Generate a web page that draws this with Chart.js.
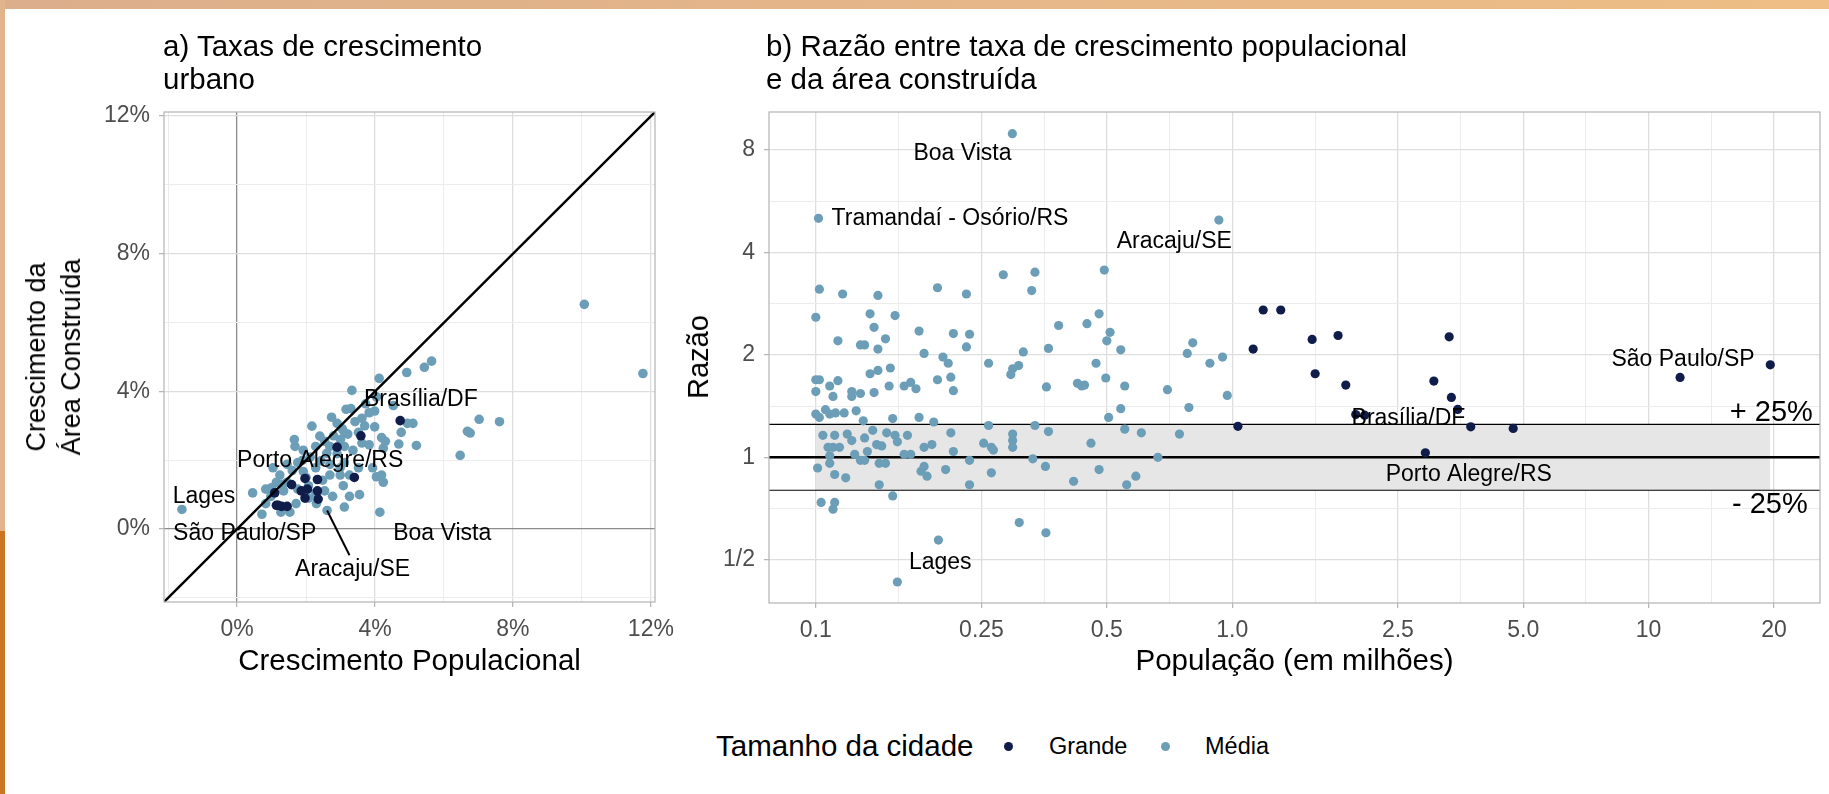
<!DOCTYPE html>
<html lang="pt">
<head>
  <meta charset="UTF-8">
  <title>Taxas de crescimento urbano</title>
  <script src="https://cdn.jsdelivr.net/npm/chart.js"></script>
  <style>
    body {
      margin: 0;
      width: 1829px;
      height: 794px;
      position: relative;
      overflow: hidden;
      background: #fff;
      font-family: "Liberation Sans", Arial, Helvetica, sans-serif;
      color: #000;
    }
    canvas { position: absolute; top: 0; }
    .t { position: absolute; white-space: nowrap; }
    .title { top: 29px; font-size: 29.5px; line-height: 33px; }
    .xtitle { top: 644px; font-size: 29.5px; line-height: 32px; text-align: center; }
    .ytitle { transform: translate(-50%, -50%) rotate(-90deg); text-align: center; }
    .dot { position: absolute; width: 9px; height: 9px; border-radius: 50%; }
    .band { position: absolute; z-index: 2; }
  </style>
</head>
<body>
  <canvas id="chartA" width="700" height="700" style="left:0"></canvas>
  <canvas id="chartB" width="1129" height="700" style="left:700px"></canvas>

  <!-- moldura laranja -->
  <div class="band" style="left:0;top:0;width:1829px;height:9px;background:linear-gradient(90deg,#dcae8b,#eebe86)"></div>
  <div class="band" style="left:0;top:0;width:5px;height:531px;background:#e3b48c"></div>
  <div class="band" style="left:0;top:531px;width:5px;height:263px;background:#c97521"></div>

  <!-- titulos -->
  <div class="t title" style="left:163px">a) Taxas de crescimento<br>urbano</div>
  <div class="t title" style="left:766px">b) Razão entre taxa de crescimento populacional<br>e da área construída</div>
  <div class="t xtitle" style="left:164px;width:491px">Crescimento Populacional</div>
  <div class="t xtitle" style="left:769px;width:1051px">População (em milhões)</div>
  <div class="t ytitle" style="left:54px;top:357px;font-size:27px;line-height:35px">Crescimento da<br>Área Construída</div>
  <div class="t ytitle" style="left:698px;top:357px;font-size:29px;line-height:32px">Razão</div>

  <!-- legenda -->
  <div class="t" style="left:716px;top:730px;font-size:29.5px;line-height:32px">Tamanho da cidade</div>
  <div class="dot" style="left:1004px;top:742px;background:#101c4a"></div>
  <div class="t" style="left:1049px;top:733px;font-size:23.5px;line-height:27px">Grande</div>
  <div class="dot" style="left:1161px;top:742px;background:#6c9eb8"></div>
  <div class="t" style="left:1205px;top:733px;font-size:23.5px;line-height:27px">Média</div>

  <script>
    const FONT = '"Liberation Sans", Arial, Helvetica, sans-serif';
    const COL_GRANDE = '#101c4a';
    const COL_MEDIA = '#6c9eb8';

    // ---- painel a: crescimento populacional (x, %) x crescimento da área (y, %) ----
    const popGrowthMedia = [10.07, 11.77, 5.64, 5.43, 4.92, 4.12, 3.33, 7.02, 7.61, 6.68, 6.76, 6.47, 5.20, 4.69, 4.76, 5.10, 4.94, 4.53, 3.99, 3.83,
      3.62, 3.42, 3.16, 2.74, 2.17, 2.90, 3.05, 3.21, 2.80, 2.54, 2.28, 1.92, 1.66, 1.68, 2.12, 2.69, 2.99, 3.26, 3.62, 3.83,
      3.99, 4.19, 4.30, 4.24, 4.04, 4.19, 4.24, 4.14, 3.08, 3.55, 3.26, 2.77, 3.11, 2.61, 2.30, 2.54, 2.48, 2.07, 1.71, 1.53,
      1.27, 0.83, 0.72, 0.45, 0.83, 1.04, 1.24, 1.35, 1.45, 1.76, 1.92, -1.60, 3.11, 2.69, 2.90, 3.36, 3.52, 3.73, 4.04, 3.11,
      2.43, 2.69, 2.99, 3.52, 3.93, 2.28, 1.76, 2.07, 1.45, 1.14, 0.98, 3.11, 2.28, 3.30, 3.70, 2.40, 1.90, 2.60, 3.00, 1.60,
      1.30, 1.00, 2.00];
    const areaGrowthMedia = [6.53, 4.52, 4.88, 4.70, 4.55, 4.38, 4.03, 3.19, 3.12, 2.84, 2.79, 2.14, 2.43, 2.47, 2.81, 3.07, 3.07, 3.59, 3.43, 3.38,
      3.22, 3.12, 3.48, 3.25, 2.99, 3.07, 2.91, 2.76, 2.71, 2.55, 2.40, 2.29, 2.60, 2.40, 2.09, 1.88, 1.78, 1.57, 2.50, 2.45,
      2.97, 2.66, 2.55, 2.35, 1.52, 1.57, 1.36, 0.49, 1.26, 1.00, 0.95, 0.95, 0.64, 0.54, 0.74, 1.11, 1.42, 1.26, 0.74, 0.49,
      0.49, 0.74, 0.43, 1.05, 1.16, 1.78, 1.57, 1.11, 1.88, 1.93, 1.67, 0.57, 2.40, 2.40, 2.19, 2.29, 2.81, 3.64, 3.84, 2.81,
      1.98, 1.57, 1.57, 1.78, 1.78, 1.05, 1.16, 0.90, 1.36, 1.36, 0.95, 1.93, 1.78, 3.50, 3.00, 2.70, 2.00, 2.20, 2.60, 1.70,
      1.30, 1.20, 1.50];
    const popGrowthGrande = [4.73, 3.59, 2.90, 3.40, 1.58, 1.97, 2.33, 1.86, 2.04, 2.33, 1.97, 2.35, 1.09, 1.14, 1.29, 1.45, 1.19];
    const areaGrowthGrande = [3.15, 2.71, 2.38, 1.50, 1.29, 1.47, 1.44, 1.11, 1.16, 1.11, 0.90, 0.87, 1.05, 0.69, 0.66, 0.66, 0.69];

    const rangeA = [-2.12, 12.12];
    const ticksA = [-2, 0, 2, 4, 6, 8, 10, 12];
    const majorA = [0, 4, 8, 12];

    // rótulos e seta do Aracaju no painel a (coordenadas em %)
    const notesA_text = ['Brasília/DF', 'Porto Alegre/RS', 'Lages', 'São Paulo/SP', 'Boa Vista', 'Aracaju/SE'];
    const notesA_x = [5.33, 2.41, -0.96, 0.22, 5.95, 3.35];
    const notesA_y = [3.75, 1.99, 0.93, -0.13, -0.13, -1.17];
    const arrowA_x = [2.61, 3.26];
    const arrowA_y = [0.54, -0.76];

    // ---- painel b: população (milhões) x razão entre taxas ----
    const popMedia = [0.102, 0.116, 0.141, 0.196, 0.230, 0.282, 0.336, 0.330, 0.493, 0.100, 0.135, 0.155, 0.138, 0.113, 0.147, 0.128, 0.131, 0.141, 0.177, 0.214,
      0.234, 0.230, 0.182, 0.202, 0.208, 0.260, 0.315, 0.307, 0.297, 0.294, 0.383, 0.448, 0.479, 0.509, 0.500, 0.362, 0.540, 0.471, 0.497, 0.552,
      0.358, 0.425, 0.435, 0.442, 0.699, 0.780, 0.804, 0.884, 0.948, 0.973, 0.787, 0.540, 0.505, 0.100, 0.102, 0.108, 0.113, 0.100, 0.110, 0.122,
      0.128, 0.122, 0.138, 0.150, 0.135, 0.141, 0.151, 0.163, 0.169, 0.174, 0.196, 0.211, 0.214, 0.100, 0.102, 0.1055, 0.108, 0.1115, 0.117, 0.125,
      0.130, 0.137, 0.148, 0.153, 0.177, 0.192, 0.211, 0.214, 0.234, 0.260, 0.297, 0.297, 0.297, 0.336, 0.362, 0.253, 0.264, 0.267, 0.182, 0.190,
      0.166, 0.155, 0.157, 0.104, 0.111, 0.119, 0.122, 0.107, 0.110, 0.114, 0.108, 0.124, 0.128, 0.131, 0.133, 0.140, 0.144, 0.163, 0.169, 0.131,
      0.101, 0.108, 0.111, 0.118, 0.142, 0.147, 0.142, 0.153, 0.179, 0.182, 0.185, 0.205, 0.234, 0.264, 0.332, 0.356, 0.416, 0.458, 0.479, 0.552,
      0.605, 0.663, 0.587, 0.558, 0.747, 0.103, 0.111, 0.110, 0.197, 0.308, 0.357, 0.157, 0.2965, 0.1015, 0.929];
    const ratioMedia = [3.12, 3.02, 2.99, 3.15, 3.02, 3.44, 3.50, 3.09, 3.55, 2.58, 2.64, 2.61, 2.41, 2.20, 2.23, 2.14, 2.14, 2.08, 2.35, 2.31,
      2.30, 2.11, 2.02, 1.97, 1.89, 1.89, 2.04, 1.86, 1.82, 1.75, 2.44, 2.47, 2.64, 2.33, 2.20, 2.09, 2.07, 1.89, 1.71, 1.62,
      1.61, 1.65, 1.62, 1.63, 1.58, 2.02, 2.17, 1.89, 1.97, 1.52, 1.40, 1.39, 1.31, 1.69, 1.69, 1.62, 1.68, 1.56, 1.51, 1.56,
      1.54, 1.51, 1.55, 1.62, 1.76, 1.80, 1.83, 1.62, 1.66, 1.59, 1.69, 1.72, 1.57, 1.34, 1.31, 1.38, 1.34, 1.35, 1.35, 1.37,
      1.28, 1.20, 1.18, 1.30, 1.31, 1.27, 1.18, 1.04, 0.98, 1.24, 1.17, 1.12, 1.07, 1.24, 1.19, 1.10, 1.07, 1.05, 1.07, 1.09,
      1.16, 1.16, 1.11, 1.16, 1.16, 1.17, 1.12, 1.07, 1.07, 1.07, 1.01, 1.02, 0.98, 0.98, 1.04, 1.09, 1.08, 1.02, 1.02, 1.14,
      0.93, 0.96, 0.89, 0.87, 0.96, 0.96, 0.83, 0.77, 0.91, 0.94, 0.88, 0.92, 0.83, 0.90, 0.99, 0.94, 0.85, 1.10, 0.92, 1.21,
      1.18, 1.00, 0.88, 0.83, 1.17, 0.737, 0.737, 0.704, 0.571, 0.643, 0.600, 0.430, 8.94, 5.04, 4.98];
    const popGrande = [1.123, 1.187, 1.308, 1.556, 1.796, 3.32, 1.582, 1.874, 3.05, 3.36, 3.48, 2.08, 1.98, 3.74, 4.73, 2.91, 1.032, 11.9, 19.6];
    const ratioGrande = [2.08, 2.71, 2.71, 2.22, 2.28, 2.26, 1.76, 1.63, 1.675, 1.50, 1.383, 1.33, 1.335, 1.229, 1.216, 1.031, 1.233, 1.717, 1.87];

    const rangeBx = [0.0772, 25.8];
    const rangeBy = [0.373, 10.35];
    const ticksBx = [0.1, 0.158, 0.25, 0.354, 0.5, 0.707, 1, 1.581, 2.5, 3.536, 5, 7.071, 10, 14.14, 20];
    const labelsBx = { 0.1: '0.1', 0.25: '0.25', 0.5: '0.5', 1: '1.0', 2.5: '2.5', 5: '5.0', 10: '10', 20: '20' };
    const ticksBy = [0.5, 0.707, 1, 1.414, 2, 2.828, 4, 5.657, 8];
    const labelsBy = { 0.5: '1/2', 1: '1', 2: '2', 4: '4', 8: '8' };

    // faixa de +/- 25% em torno da razão 1
    const refRatio = 1;
    const bandRatio = [0.8, 1.25];
    const bandPop = [0.1, 19.6];

    const notesB_text = ['Boa Vista', 'Tramandaí - Osório/RS', 'Aracaju/SE', 'São Paulo/SP', 'Brasília/DF', 'Porto Alegre/RS', 'Lages'];
    const notesB_x = [0.225, 0.21, 0.726, 12.1, 2.65, 3.70, 0.199];
    const notesB_y = [7.81, 5.04, 4.30, 1.94, 1.295, 0.892, 0.489];
    const bandNotes_text = ['+ 25%', '- 25%'];
    const bandNotes_x = [24.8, 24.1];
    const bandNotes_y = [1.349, 0.723];

    const toPoints = (xs, ys) => xs.map((v, i) => ({ x: v, y: ys[i] }));

    // moldura do painel + rótulos de texto em coordenadas de dados
    function panelPlugin(notes) {
      return {
        id: 'panelExtras',
        afterDatasetsDraw(chart) {
          const { ctx, chartArea: a, scales } = chart;
          ctx.save();
          ctx.strokeStyle = '#b3b3b3';
          ctx.lineWidth = 1.2;
          ctx.strokeRect(a.left, a.top, a.right - a.left, a.bottom - a.top);
          ctx.fillStyle = '#000';
          ctx.textBaseline = 'middle';
          notes.forEach(n => {
            ctx.font = n.size + 'px ' + FONT;
            ctx.textAlign = n.align;
            ctx.fillText(n.text, scales.x.getPixelForValue(n.x), scales.y.getPixelForValue(n.y));
          });
          ctx.restore();
        }
      };
    }

    const tickFont = { family: FONT, size: 23 };
    const isIn = (arr, v) => arr.some(m => Math.abs(m - v) < 1e-6);

    // ---------- grafico a ----------
    const gridA = () => ({
      color: c => (c.tick && Math.abs(c.tick.value) < 1e-9) ? '#8c8c8c' : (isIn(majorA, c.tick.value) ? '#dedede' : '#ececec'),
      lineWidth: c => (c.tick && isIn(majorA, c.tick.value)) ? 1.3 : 1,
      tickColor: c => (c.tick && isIn(majorA, c.tick.value)) ? '#b3b3b3' : 'rgba(0,0,0,0)',
      tickLength: 5,
      tickWidth: 1.2
    });
    const ticksCfgA = {
      color: '#4d4d4d', font: tickFont, padding: 9, maxRotation: 0, autoSkip: false,
      callback: v => isIn(majorA, v) ? Math.round(v) + '%' : ''
    };

    const notesA = notesA_text.map((t, i) => ({ text: t, x: notesA_x[i], y: notesA_y[i], size: 23, align: 'center' }));

    new Chart(document.getElementById('chartA'), {
      type: 'scatter',
      data: {
        datasets: [
          { type: 'line', data: toPoints(rangeA, rangeA), borderColor: '#000', borderWidth: 2.4, pointRadius: 0, order: 0 },
          { type: 'line', data: toPoints(arrowA_x, arrowA_y), borderColor: '#000', borderWidth: 2, pointRadius: 0, order: 0 },
          { label: 'Grande', data: toPoints(popGrowthGrande, areaGrowthGrande), backgroundColor: COL_GRANDE, borderWidth: 0, pointRadius: 4.8, order: 1 },
          { label: 'Média', data: toPoints(popGrowthMedia, areaGrowthMedia), backgroundColor: COL_MEDIA, borderWidth: 0, pointRadius: 4.8, order: 2 }
        ]
      },
      options: {
        responsive: false,
        animation: false,
        devicePixelRatio: 1,
        layout: { padding: { top: 112, right: 45, left: 0, bottom: 0 } },
        plugins: { legend: { display: false }, tooltip: { enabled: false } },
        scales: {
          x: {
            type: 'linear', min: rangeA[0], max: rangeA[1],
            afterBuildTicks: s => { s.ticks = ticksA.map(v => ({ value: v })); },
            afterFit: s => { s.height = 98; },
            ticks: ticksCfgA, grid: gridA(), border: { display: false }
          },
          y: {
            type: 'linear', min: rangeA[0], max: rangeA[1],
            afterBuildTicks: s => { s.ticks = ticksA.map(v => ({ value: v })); },
            afterFit: s => { s.width = 164; },
            ticks: ticksCfgA, grid: gridA(), border: { display: false }
          }
        }
      },
      plugins: [panelPlugin(notesA)]
    });

    // ---------- grafico b ----------
    const majorBx = Object.keys(labelsBx).map(Number);
    const majorBy = Object.keys(labelsBy).map(Number);
    const gridB = majors => ({
      color: c => (c.tick && isIn(majors, c.tick.value)) ? '#dedede' : '#ececec',
      lineWidth: c => (c.tick && isIn(majors, c.tick.value)) ? 1.3 : 1,
      tickColor: c => (c.tick && isIn(majors, c.tick.value)) ? '#b3b3b3' : 'rgba(0,0,0,0)',
      tickLength: 5,
      tickWidth: 1.2
    });
    const labelOf = (map, v) => {
      const k = Object.keys(map).find(m => Math.abs(Number(m) - v) < 1e-6);
      return k === undefined ? '' : map[k];
    };

    const notesB = notesB_text.map((t, i) => ({ text: t, x: notesB_x[i], y: notesB_y[i], size: 23, align: 'center' }))
      .concat(bandNotes_text.map((t, i) => ({ text: t, x: bandNotes_x[i], y: bandNotes_y[i], size: 29, align: 'right' })));

    new Chart(document.getElementById('chartB'), {
      type: 'scatter',
      data: {
        datasets: [
          { label: 'Grande', data: toPoints(popGrande, ratioGrande), backgroundColor: COL_GRANDE, borderWidth: 0, pointRadius: 4.6, order: 1 },
          { label: 'Média', data: toPoints(popMedia, ratioMedia), backgroundColor: COL_MEDIA, borderWidth: 0, pointRadius: 4.6, order: 2 },
          { type: 'line', data: toPoints(rangeBx, [refRatio, refRatio]), borderColor: '#000', borderWidth: 2.6, pointRadius: 0, order: 3 },
          { type: 'line', data: toPoints(rangeBx, [bandRatio[1], bandRatio[1]]), borderColor: '#000', borderWidth: 1.2, pointRadius: 0, order: 3 },
          { type: 'line', data: toPoints(rangeBx, [bandRatio[0], bandRatio[0]]), borderColor: '#000', borderWidth: 1.2, pointRadius: 0, order: 3 },
          { type: 'line', data: toPoints(bandPop, [bandRatio[1], bandRatio[1]]), borderWidth: 0, pointRadius: 0,
            backgroundColor: '#e6e6e6', fill: 6, order: 4 },
          { type: 'line', data: toPoints(bandPop, [bandRatio[0], bandRatio[0]]), borderWidth: 0, pointRadius: 0, order: 4 }
        ]
      },
      options: {
        responsive: false,
        animation: false,
        devicePixelRatio: 1,
        layout: { padding: { top: 112, right: 9, left: 0, bottom: 0 } },
        plugins: { legend: { display: false }, tooltip: { enabled: false } },
        scales: {
          x: {
            type: 'logarithmic', min: rangeBx[0], max: rangeBx[1],
            afterBuildTicks: s => { s.ticks = ticksBx.map(v => ({ value: v })); },
            afterFit: s => { s.height = 97; },
            ticks: { color: '#4d4d4d', font: tickFont, padding: 9, maxRotation: 0, autoSkip: false, callback: v => labelOf(labelsBx, v) },
            grid: gridB(majorBx), border: { display: false }
          },
          y: {
            type: 'logarithmic', min: rangeBy[0], max: rangeBy[1],
            afterBuildTicks: s => { s.ticks = ticksBy.map(v => ({ value: v })); },
            afterFit: s => { s.width = 69; },
            ticks: { color: '#4d4d4d', font: tickFont, padding: 9, autoSkip: false, callback: v => labelOf(labelsBy, v) },
            grid: gridB(majorBy), border: { display: false }
          }
        }
      },
      plugins: [panelPlugin(notesB)]
    });
  </script>
</body>
</html>
